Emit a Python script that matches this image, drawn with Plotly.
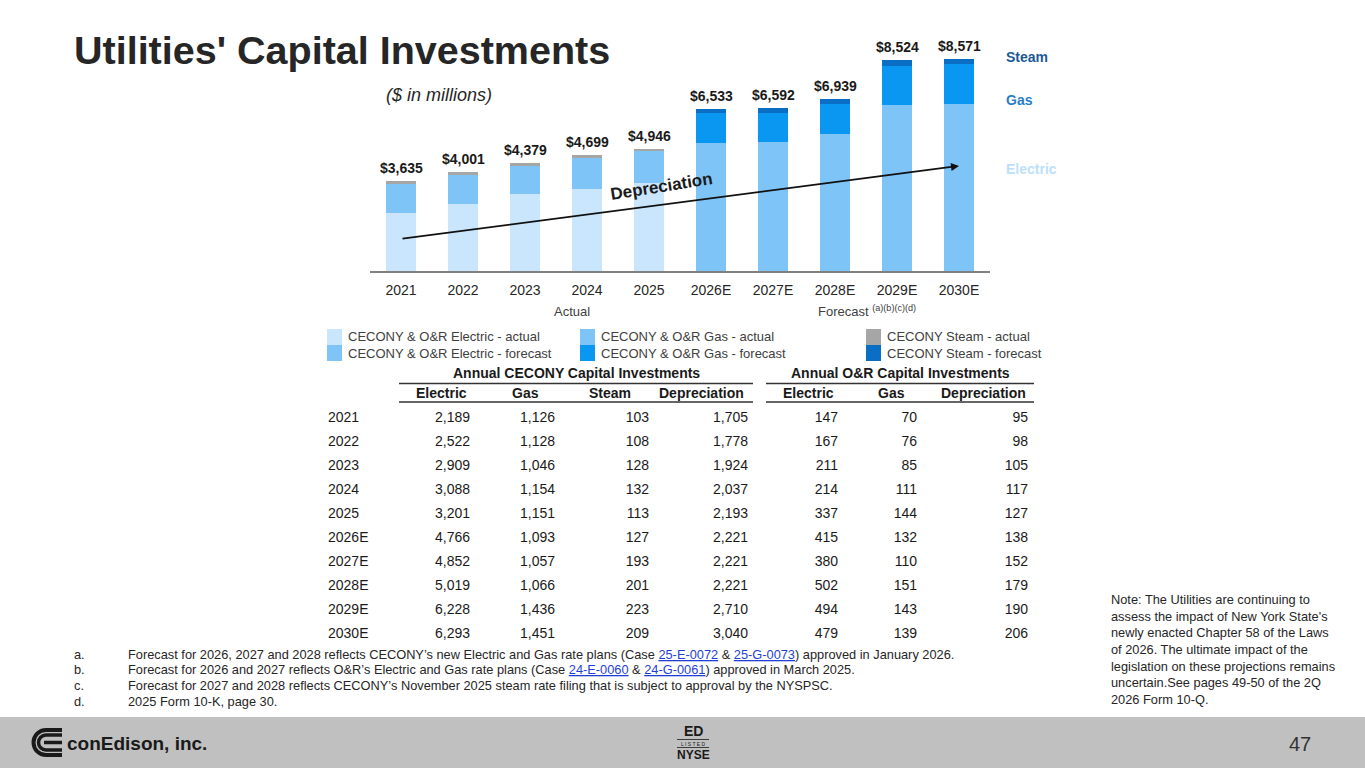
import plotly.graph_objects as go

W, H = 1365, 768
FONT = "Liberation Sans, Arial, sans-serif"

# ---- data -------------------------------------------------------------
years = ['2021', '2022', '2023', '2024', '2025',
         '2026E', '2027E', '2028E', '2029E', '2030E']
n_actual = 5

cecony_electric = [2189, 2522, 2909, 3088, 3201, 4766, 4852, 5019, 6228, 6293]
cecony_gas = [1126, 1128, 1046, 1154, 1151, 1093, 1057, 1066, 1436, 1451]
cecony_steam = [103, 108, 128, 132, 113, 127, 193, 201, 223, 209]
cecony_depr = [1705, 1778, 1924, 2037, 2193, 2221, 2221, 2221, 2710, 3040]
or_electric = [147, 167, 211, 214, 337, 415, 380, 502, 494, 479]
or_gas = [70, 76, 85, 111, 144, 132, 110, 151, 143, 139]
or_depr = [95, 98, 105, 117, 127, 138, 152, 179, 190, 206]

# depreciation arrow end points ($M on the bar scale)
depr_arrow_start = 1300
depr_arrow_end = 4250

footnotes = [
    ("a.", "Forecast for 2026, 2027 and 2028 reflects CECONY’s new Electric and Gas rate plans "
           "(Case {L}25-E-0072{E} &amp; {L}25-G-0073{E}) approved in January 2026."),
    ("b.", "Forecast for 2026 and 2027 reflects O&amp;R’s Electric and Gas rate plans "
           "(Case {L}24-E-0060{E} &amp; {L}24-G-0061{E}) approved in March 2025."),
    ("c.", "Forecast for 2027 and 2028 reflects CECONY’s November 2025 steam rate filing "
           "that is subject to approval by the NYSPSC."),
    ("d.", "2025 Form 10-K, page 30."),
]
note_lines = [
    "Note: The Utilities are continuing to",
    "assess the impact of New York State's",
    "newly enacted Chapter 58 of the Laws",
    "of 2026. The ultimate impact of the",
    "legislation on these projections remains",
    "uncertain.See pages 49-50 of the 2Q",
    "2026 Form 10-Q.",
]

# ---- derived series ---------------------------------------------------
electric = [a + b for a, b in zip(cecony_electric, or_electric)]
gas = [a + b for a, b in zip(cecony_gas, or_gas)]
steam = cecony_steam
totals = [e + g + s for e, g, s in zip(electric, gas, steam)]


def split(vals):
    act = [v if i < n_actual else None for i, v in enumerate(vals)]
    fc = [v if i >= n_actual else None for i, v in enumerate(vals)]
    return act, fc


C_ELEC_A, C_ELEC_F = '#C9E6FC', '#7FC4F7'
C_GAS_A, C_GAS_F = '#7FC4F7', '#0A97F2'
C_STM_A, C_STM_F = '#A6A6A6', '#0B6EC5'
TXT = '#1a1a1a'


def px(x):
    return x / W


def py(y):
    return 1 - y / H


annotations = []
shapes = []


def label(x, y, text, size, color=TXT, xanchor='center', yanchor='middle', **kw):
    annotations.append(dict(x=px(x), y=py(y), xref='paper', yref='paper', text=text,
                            showarrow=False, xanchor=xanchor, yanchor=yanchor,
                            font=dict(size=size, color=color, family=FONT), **kw))


fig = go.Figure()

series = [
    ('CECONY &amp; O&amp;R Electric - actual', split(electric)[0], C_ELEC_A),
    ('CECONY &amp; O&amp;R Electric - forecast', split(electric)[1], C_ELEC_F),
    ('CECONY &amp; O&amp;R Gas - actual', split(gas)[0], C_GAS_A),
    ('CECONY &amp; O&amp;R Gas - forecast', split(gas)[1], C_GAS_F),
    ('CECONY Steam - actual', split(steam)[0], C_STM_A),
    ('CECONY Steam - forecast', split(steam)[1], C_STM_F),
]
for name, vals, col in series:
    fig.add_trace(go.Bar(x=years, y=vals, name=name, marker=dict(color=col, line_width=0),
                         showlegend=False, hoverinfo='skip'))

# totals over bars
for i, t in enumerate(totals):
    annotations.append(dict(x=i, y=t, xref='x', yref='y', text=f'<b>${t:,}</b>',
                            showarrow=False, xanchor='center', yanchor='bottom', yshift=3,
                            font=dict(size=14, color=TXT, family=FONT)))

# depreciation arrow
annotations.append(dict(x=len(years) - 1, y=depr_arrow_end, ax=0, ay=depr_arrow_start,
                        xref='x', yref='y', axref='x', ayref='y', text='',
                        showarrow=True, arrowhead=2, arrowsize=1, arrowwidth=1.6,
                        arrowcolor='#111111'))
annotations.append(dict(x=4.2, y=3400, xref='x', yref='y', text='<b>Depreciation</b>',
                        showarrow=False, textangle=-9, xanchor='center', yanchor='middle',
                        font=dict(size=17, color=TXT, family=FONT)))

# title and subtitle
label(72, 50, "<b>Utilities' Capital Investments</b>", 39.5, '#262626', xanchor='left')
label(384, 95, "<i>($ in millions)</i>", 18, '#262626', xanchor='left')

# Actual / Forecast labels
label(572, 311, 'Actual', 13, '#404040')
label(816, 311, 'Forecast <sup>(a)(b)(c)(d)</sup>', 13, '#404040', xanchor='left')

# right side segment labels
for txt, yy, col in [('Steam', 57, '#1B5A98'), ('Gas', 100, '#2A7DC3'),
                     ('Electric', 169, '#BDDFF8')]:
    label(1004, yy, f'<b>{txt}</b>', 14, col, xanchor='left')

# legend (manual, three columns x two rows)
leg_cols = [327, 580, 866]
leg_rows = [329, 345]
for i, (name, _, col) in enumerate(series):
    cx = leg_cols[i // 2]
    ry = leg_rows[i % 2]
    shapes.append(dict(type='rect', xref='paper', yref='paper',
                       x0=px(cx), x1=px(cx + 15), y0=py(ry), y1=py(ry + 16),
                       fillcolor=col, line_width=0))
    label(cx + 19, ry + 8, name, 13, '#404040', xanchor='left')

# ---- table ------------------------------------------------------------
col_right = [470, 555, 649, 748, 838, 917, 1028]
col_vals = [cecony_electric, cecony_gas, cecony_steam, cecony_depr,
            or_electric, or_gas, or_depr]
col_heads = ['Electric', 'Gas', 'Steam', 'Depreciation', 'Electric', 'Gas', 'Depreciation']
col_head_x = [441, 525, 610, 702, 808, 891, 983]

fig.add_trace(go.Scatter(x=[328] * len(years), y=years, mode='text', text=years,
                         textposition='middle right', xaxis='x2', yaxis='y2',
                         textfont=dict(size=14, color=TXT, family=FONT),
                         showlegend=False, hoverinfo='skip'))
for xr, vals in zip(col_right, col_vals):
    fig.add_trace(go.Scatter(x=[xr] * len(vals), y=years, mode='text',
                             text=[f'{v:,}' for v in vals], textposition='middle left',
                             xaxis='x2', yaxis='y2',
                             textfont=dict(size=14, color=TXT, family=FONT),
                             showlegend=False, hoverinfo='skip'))

for txt, xc in zip(col_heads, col_head_x):
    label(xc, 393, f'<b>{txt}</b>', 14)
for txt, x0, x1 in [('Annual CECONY Capital Investments', 399, 753),
                    ('Annual O&amp;R Capital Investments', 766, 1034)]:
    label((x0 + x1) / 2, 373, f'<b>{txt}</b>', 14)
    for yy in (383.5, 402):
        shapes.append(dict(type='line', xref='paper', yref='paper',
                           x0=px(x0), x1=px(x1), y0=py(yy), y1=py(yy),
                           line=dict(color='#333333', width=1.3)))

# ---- footnotes and note -----------------------------------------------
LINK = "<span style='color:#1f3fd6'><u>"
for i, (lab, txt) in enumerate(footnotes):
    yy = 654 + i * 15.7
    txt = txt.replace('{L}', LINK).replace('{E}', '</u></span>')
    label(72, yy, lab, 12.8, '#262626', xanchor='left')
    label(126, yy, txt, 12.8, '#262626', xanchor='left')

label(1109, 590, '<br>'.join(note_lines), 12.8, '#262626', xanchor='left',
      yanchor='top', align='left')

# ---- footer band with logos -------------------------------------------
shapes.append(dict(type='rect', xref='paper', yref='paper', x0=0, x1=1,
                   y0=0, y1=py(717), fillcolor='#C0C0C0', line_width=0, layer='below'))


def c_path(cx, cy, r, xr):
    k = 0.5523
    return (f"M{px(xr)},{py(cy - r)} L{px(cx)},{py(cy - r)} "
            f"C{px(cx - k * r)},{py(cy - r)} {px(cx - r)},{py(cy - k * r)} {px(cx - r)},{py(cy)} "
            f"C{px(cx - r)},{py(cy + k * r)} {px(cx - k * r)},{py(cy + r)} {px(cx)},{py(cy + r)} "
            f"L{px(xr)},{py(cy + r)}")


for r, w in [(12.5, 4), (7.5, 3.5)]:
    shapes.append(dict(type='path', xref='paper', yref='paper', path=c_path(46, 742.5, r, 62),
                       line=dict(color=TXT, width=w)))
shapes.append(dict(type='line', xref='paper', yref='paper', x0=px(44), x1=px(62),
                   y0=py(742.5), y1=py(742.5), line=dict(color=TXT, width=3.5)))
label(65, 743, '<b>conEdison, inc.</b>', 19, TXT, xanchor='left')

label(693, 731, '<b>ED</b>', 14)
label(693, 743.5, 'L I S T E D', 5)
label(693, 755, '<b>NYSE</b>', 12)
for yy in (739.5, 747.5):
    shapes.append(dict(type='line', xref='paper', yref='paper', x0=px(677), x1=px(709),
                       y0=py(yy), y1=py(yy), line=dict(color=TXT, width=0.8)))
label(1300, 744, '47', 20, '#333333')

# ---- layout -------------------------------------------------------------
fig.update_layout(
    width=W, height=H, margin=dict(l=0, r=0, t=0, b=0),
    paper_bgcolor='white', plot_bgcolor='rgba(0,0,0,0)',
    barmode='stack', bargap=0.52,
    font=dict(family=FONT),
    showlegend=False,
    xaxis=dict(type='category', domain=[px(370), px(990)], range=[-0.5, 9.5],
               showline=True, linecolor='#808080', linewidth=1.5, ticks='',
               ticklabelstandoff=5,
               showgrid=False, zeroline=False, fixedrange=True,
               tickfont=dict(size=14, color='#262626', family=FONT)),
    yaxis=dict(domain=[py(271), py(48.4)], range=[0, 9000], visible=False,
               fixedrange=True),
    xaxis2=dict(domain=[0, 1], range=[0, W], visible=False, anchor='y2', fixedrange=True),
    yaxis2=dict(domain=[py(647), py(406)], type='category', range=[9.5, -0.5],
                visible=False, anchor='x2', fixedrange=True),
    annotations=annotations,
    shapes=shapes,
)

fig.write_html("out.html", config={'displayModeBar': False},
               post_script="document.body.style.margin='0';")
